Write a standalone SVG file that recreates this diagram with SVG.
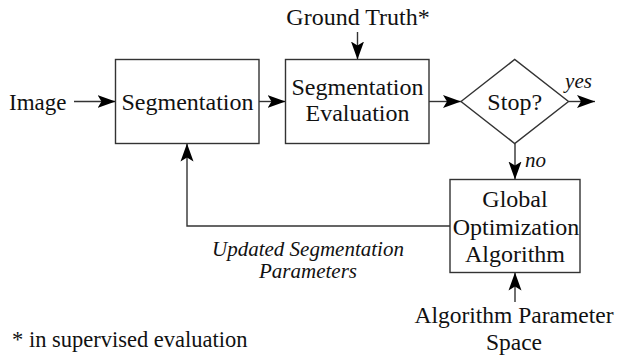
<svg xmlns="http://www.w3.org/2000/svg" width="618" height="357" viewBox="0 0 618 357">
<defs>
<marker id="ah" markerUnits="userSpaceOnUse" markerWidth="20" markerHeight="14" refX="18" refY="7" orient="auto">
<path d="M0,0.5 L18,7 L0,13.5 L4,7 z" fill="#000"/>
</marker>
</defs>
<style>
.box{fill:#fff;stroke:#333;stroke-width:1.4}
.t{font-family:"Liberation Serif","Times New Roman",serif;font-size:24px;fill:#111;text-anchor:middle}
.i{font-family:"Liberation Serif","Times New Roman",serif;font-size:21px;font-style:italic;fill:#111;text-anchor:middle}
.c{fill:none;stroke:#333;stroke-width:1.4;marker-end:url(#ah)}
</style>
<rect width="618" height="357" fill="#fff"/>
<g id="connectors">
<line class="c" x1="74" y1="101.5" x2="115.5" y2="101.5"/>
<line class="c" x1="259" y1="101.5" x2="285.5" y2="101.5"/>
<line class="c" x1="429" y1="101.5" x2="461" y2="101.5"/>
<line class="c" x1="568.5" y1="101.5" x2="595" y2="101.5"/>
<line class="c" x1="357.5" y1="32" x2="357.5" y2="59.5"/>
<line class="c" x1="515" y1="143.5" x2="515" y2="179.5"/>
<polyline class="c" points="450,226 187,226 187,143.5"/>
<line class="c" x1="515" y1="302" x2="515" y2="272.5"/>
<text class="i" x="578.5" y="88">yes</text>
<text class="i" x="525" y="167" style="text-anchor:start">no</text>
<text class="i" x="308" y="256">Updated Segmentation</text>
<text class="i" x="308" y="278">Parameters</text>
</g>
<g id="image"><text class="t" x="9" y="110" style="text-anchor:start;font-size:23px">Image</text></g>
<g id="groundtruth"><text class="t" x="358" y="25">Ground Truth*</text></g>
<g id="segmentation">
<rect class="box" x="115.5" y="59.5" width="143.5" height="84"/>
<text class="t" x="187.5" y="110">Segmentation</text>
</g>
<g id="evaluation">
<rect class="box" x="285.5" y="59.5" width="143.5" height="84"/>
<text class="t" x="357.5" y="95">Segmentation</text>
<text class="t" x="357.5" y="121">Evaluation</text>
</g>
<g id="stop">
<polygon class="box" points="461,101.5 514.7,59.5 568.5,101.5 514.7,143.5"/>
<text class="t" x="514.7" y="110">Stop?</text>
</g>
<g id="optimization">
<rect class="box" x="450" y="179.5" width="130" height="93"/>
<text class="t" x="515" y="207">Global</text>
<text class="t" x="516" y="235">Optimization</text>
<text class="t" x="515" y="262">Algorithm</text>
</g>
<g id="paramspace">
<text class="t" x="514" y="323" style="font-size:23.5px">Algorithm Parameter</text>
<text class="t" x="514" y="350" style="font-size:23.5px">Space</text>
</g>
<g id="note"><text class="t" x="12" y="347" style="text-anchor:start;font-size:22.5px">* in supervised evaluation</text></g>
</svg>
